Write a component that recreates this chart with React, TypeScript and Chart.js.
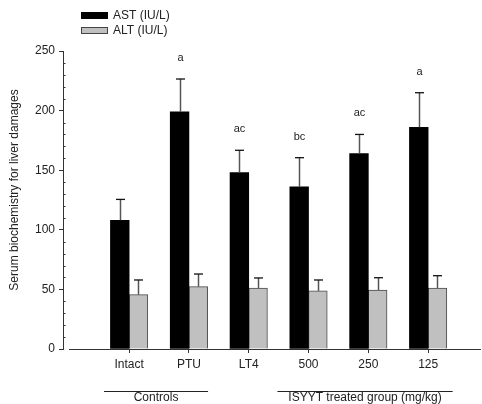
import React, { useEffect, useRef } from 'react';
import { Chart, registerables } from 'chart.js';

Chart.register(...registerables);

const FONT = "'Liberation Sans', Arial, sans-serif";

const categories = ['Intact', 'PTU', 'LT4', '500', '250', '125'];
const astValues = [108, 199, 148, 136, 164, 186];
const astErrors = [17.5, 27.5, 18.7, 24.5, 16, 29];
const altValues = [45.6, 52.3, 51.2, 48.7, 49.5, 51.2];
const altErrors = [12.3, 10.6, 8.4, 9.2, 10.3, 10.3];
const significance = ['', 'a', 'ac', 'bc', 'ac', 'a'];
const yMajorTicks = [0, 50, 100, 150, 200, 250];
const yMinorStep = 10;
const seriesLabels = ['AST (IU/L)', 'ALT (IU/L)'];
const groupLabels = ['Controls', 'ISYYT treated group (mg/kg)'];
const groupSpans = [
  [0.58, 2.32],
  [3.48, 6.41],
];
const yTitle = 'Serum biochemistry for liver damages';

const errorPlugin = {
  id: 'errorBars',
  afterDatasetsDraw(chart: any) {
    const ctx = chart.ctx;
    const yScale = chart.scales.y;
    const errs = [astErrors, altErrors];
    const vals = [astValues, altValues];
    ctx.save();
    chart.data.datasets.forEach((ds: any, di: number) => {
      const meta = chart.getDatasetMeta(di);
      meta.data.forEach((el: any, i: number) => {
        const x = Math.round(el.x) + 0.5;
        const top = yScale.getPixelForValue(vals[di][i]);
        const cap = yScale.getPixelForValue(vals[di][i] + errs[di][i]);
        ctx.strokeStyle = '#555';
        ctx.lineWidth = 1.5;
        ctx.beginPath();
        ctx.moveTo(x, top);
        ctx.lineTo(x, cap);
        ctx.stroke();
        ctx.strokeStyle = '#111';
        ctx.lineWidth = 1.3;
        ctx.beginPath();
        ctx.moveTo(x - 4.5, cap);
        ctx.lineTo(x + 4.5, cap);
        ctx.stroke();
        if (di === 0 && significance[i]) {
          ctx.fillStyle = '#222';
          ctx.font = `11px ${FONT}`;
          ctx.textAlign = 'center';
          ctx.textBaseline = 'middle';
          ctx.fillText(significance[i], x, cap - 21);
        }
      });
    });
    ctx.restore();
  },
};

const decorPlugin = {
  id: 'decor',
  afterDraw(chart: any) {
    const ctx = chart.ctx;
    const { left, right, bottom } = chart.chartArea;
    const xScale = chart.scales.x;
    const yScale = chart.scales.y;
    ctx.save();
    // x axis line (offset from y axis)
    ctx.strokeStyle = '#333';
    ctx.lineWidth = 1;
    ctx.beginPath();
    ctx.moveTo(left + 6, Math.round(bottom) + 0.5);
    ctx.lineTo(right, Math.round(bottom) + 0.5);
    ctx.stroke();
    // minor y ticks (inward)
    for (let v = 0; v <= 250; v += yMinorStep) {
      if (yMajorTicks.includes(v)) continue;
      const y = Math.round(yScale.getPixelForValue(v)) + 0.5;
      ctx.beginPath();
      ctx.moveTo(left, y);
      ctx.lineTo(left + 2.5, y);
      ctx.stroke();
    }
    // group labels
    ctx.fillStyle = '#222';
    ctx.font = `12px ${FONT}`;
    ctx.textAlign = 'center';
    ctx.textBaseline = 'middle';
    groupLabels.forEach((g, i) => {
      const x1 = xScale.getPixelForValue(groupSpans[i][0]);
      const x2 = xScale.getPixelForValue(groupSpans[i][1]);
      ctx.beginPath();
      ctx.moveTo(x1, 391.5);
      ctx.lineTo(x2, 391.5);
      ctx.strokeStyle = '#222';
      ctx.stroke();
      ctx.fillText(g, (x1 + x2) / 2, 397.5);
    });
    // y title
    ctx.save();
    ctx.translate(15, 190);
    ctx.rotate(-Math.PI / 2);
    ctx.fillText(yTitle, 0, 0);
    ctx.restore();
    // legend
    const fills = ['#000', '#c0c0c0'];
    seriesLabels.forEach((lab, i) => {
      const y = 12 + i * 15;
      ctx.fillStyle = fills[i];
      ctx.fillRect(81, y, 27, 7);
      if (i === 1) {
        ctx.strokeStyle = '#444';
        ctx.strokeRect(81.5, y + 0.5, 26, 6);
      }
      ctx.fillStyle = '#222';
      ctx.textAlign = 'left';
      ctx.fillText(lab, 113, y + 3.5);
    });
    ctx.restore();
  },
};

export default function App() {
  const ref = useRef<HTMLCanvasElement>(null);
  useEffect(() => {
    if (!ref.current) return;
    const chart = new Chart(ref.current, {
      type: 'bar',
      data: {
        datasets: [
          {
            label: seriesLabels[0],
            data: categories.map((_, i) => ({ x: i + 1, y: astValues[i] })),
            backgroundColor: '#000',
            borderWidth: 0,
          },
          {
            label: seriesLabels[1],
            data: categories.map((_, i) => ({ x: i + 1, y: altValues[i] })),
            backgroundColor: '#c0c0c0',
            borderColor: '#4a4a4a',
            borderWidth: 1,
          },
        ],
      },
      options: {
        animation: false,
        responsive: true,
        maintainAspectRatio: false,
        layout: { padding: { top: 51, right: 1, left: 0, bottom: 0 } },
        datasets: { bar: { barThickness: 18.7 } } as any,
        plugins: { legend: { display: false }, tooltip: { enabled: false } },
        scales: {
          x: {
            type: 'linear',
            min: -0.106,
            max: 6.884,
            offset: false,
            afterBuildTicks: (s: any) => {
              s.ticks = categories.map((_, i) => ({ value: i + 1 }));
            },
            afterFit: (s: any) => {
              s.height = 55;
            },
            ticks: {
              callback: (v: any) => categories[Number(v) - 1] ?? '',
              font: { family: FONT, size: 12 },
              color: '#222',
              padding: 4,
              maxRotation: 0,
              autoSkip: false,
            },
            grid: { drawOnChartArea: false, drawTicks: true, tickLength: 4, color: '#333', offset: false },
            border: { display: false },
          },
          y: {
            min: 0,
            max: 250,
            afterBuildTicks: (s: any) => {
              s.ticks = yMajorTicks.map((v) => ({ value: v }));
            },
            afterFit: (s: any) => {
              s.width = 63;
            },
            ticks: {
              font: { family: FONT, size: 12 },
              color: '#222',
              padding: 4,
            },
            grid: { drawOnChartArea: false, drawTicks: true, tickLength: 4, color: '#333' },
            border: { display: true, color: '#333', width: 1 },
          },
        },
      },
      plugins: [errorPlugin, decorPlugin],
    });
    return () => chart.destroy();
  }, []);
  return (
    <div style={{ position: 'absolute', left: 0, top: 0, width: 482, height: 404, background: '#fff' }}>
      <canvas ref={ref} />
    </div>
  );
}
